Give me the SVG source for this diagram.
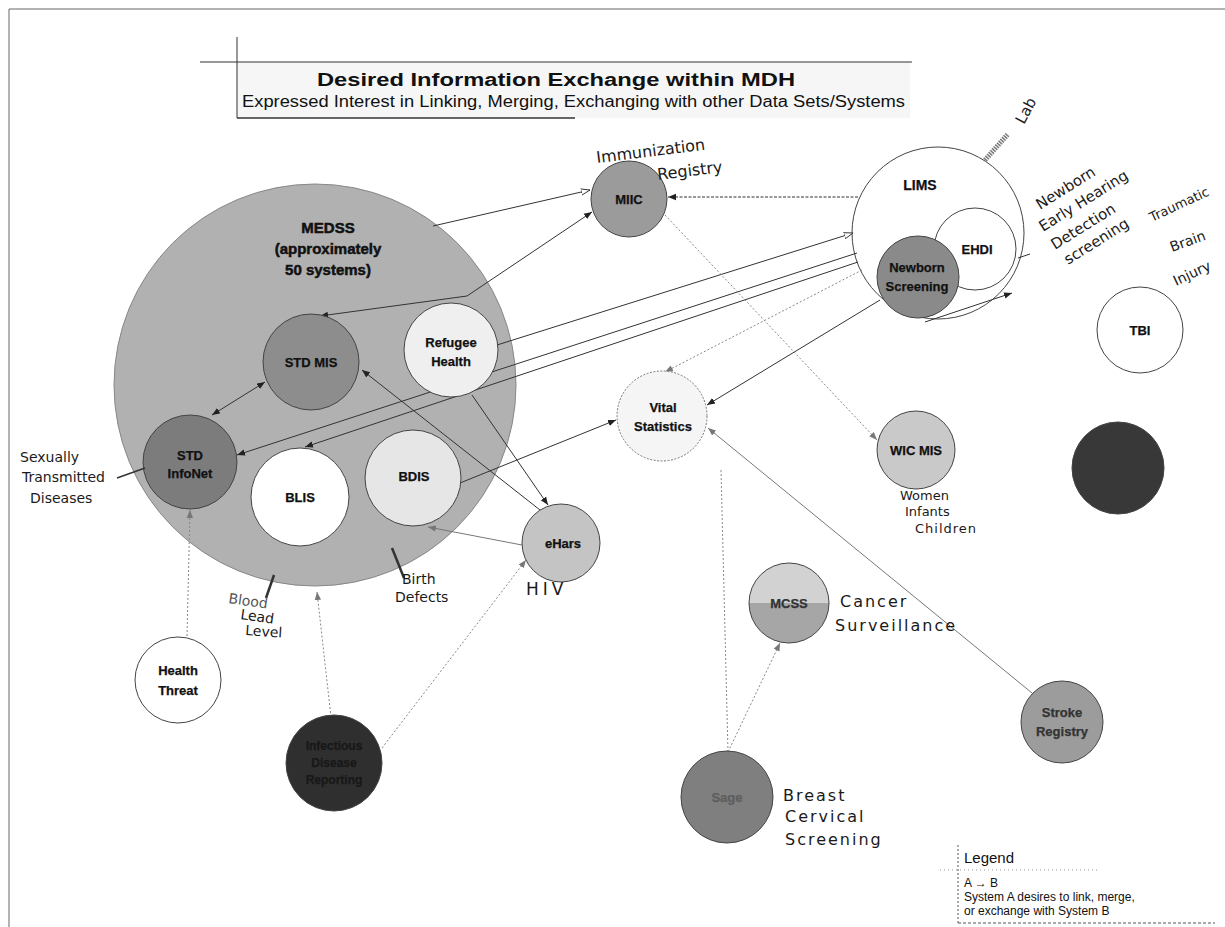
<svg xmlns="http://www.w3.org/2000/svg" width="1225" height="927" viewBox="0 0 1225 927">
<defs>
<style>
.lbl{font-family:"Liberation Sans",Arial,sans-serif;font-weight:bold;font-size:13px;fill:#111;text-anchor:middle;stroke:#111;stroke-width:0.25}
.big{font-family:"Liberation Sans",Arial,sans-serif;font-weight:bold;font-size:15px;fill:#111;text-anchor:middle;stroke:#111;stroke-width:0.5}
.hw{font-family:"DejaVu Sans","Liberation Sans",sans-serif;fill:#1a1a1a}
.ln{stroke:#333;stroke-width:1;fill:none}
.lg{stroke:#777;stroke-width:1;fill:none}
.dt{stroke:#888;stroke-width:1;stroke-dasharray:2 2;fill:none}
.c{stroke:#444;stroke-width:1}
.leg{font-family:"Liberation Sans",Arial,sans-serif;fill:#111}
</style>
<marker id="ah" viewBox="0 0 10 10" refX="10" refY="5" markerWidth="8" markerHeight="8" orient="auto-start-reverse" markerUnits="userSpaceOnUse"><path d="M0,1 L10,5 L0,9 z" fill="#222"/></marker>
<marker id="ag" viewBox="0 0 10 10" refX="10" refY="5" markerWidth="8" markerHeight="8" orient="auto-start-reverse" markerUnits="userSpaceOnUse"><path d="M0,1 L10,5 L0,9 z" fill="#777"/></marker>
<marker id="ao" viewBox="0 0 10 10" refX="10" refY="5" markerWidth="9" markerHeight="9" orient="auto" markerUnits="userSpaceOnUse"><path d="M0,1.5 L10,5 L0,8.5 z" fill="#fff" stroke="#333" stroke-width="1"/></marker>
<linearGradient id="mcssg" x1="0" y1="0" x2="0" y2="1"><stop offset="0.5" stop-color="#d2d2d2"/><stop offset="0.5" stop-color="#a6a6a6"/></linearGradient>
</defs>
<rect width="1225" height="927" fill="#fff"/>
<line x1="9" y1="9" x2="1225" y2="9" stroke="#666" stroke-width="1"/>
<line x1="9" y1="9" x2="9" y2="927" stroke="#666" stroke-width="1"/>

<g id="title">
<rect x="237" y="62" width="673" height="56" fill="#f6f6f6"/>
<line x1="200" y1="62" x2="912" y2="62" stroke="#333" stroke-width="1.2"/>
<line x1="237" y1="37" x2="237" y2="118" stroke="#333" stroke-width="1"/>
<line x1="237" y1="118" x2="575" y2="118" stroke="#333" stroke-width="1.5"/>
<text x="556" y="86" font-family="Liberation Sans,Arial,sans-serif" font-weight="bold" font-size="18" text-anchor="middle" textLength="478" lengthAdjust="spacingAndGlyphs" fill="#111">Desired Information Exchange within MDH</text>
<text x="242" y="107" font-family="Liberation Sans,Arial,sans-serif" font-size="16" textLength="663" lengthAdjust="spacingAndGlyphs" fill="#111">Expressed Interest in Linking, Merging, Exchanging with other Data Sets/Systems</text>
</g>

<g id="medss">
<circle cx="315" cy="385" r="201" fill="#b1b1b1" stroke="#888"/>
<text class="big" x="328" y="233">MEDSS</text>
<text class="big" x="328" y="254">(approximately</text>
<text class="big" x="328" y="275">50 systems)</text>
</g>
<g id="lims">
<circle cx="938" cy="233" r="86" fill="#fff" class="c"/>
<text class="lbl" style="font-size:14px" x="920" y="190">LIMS</text>
</g>

<g id="connectors">
<line class="ln" x1="433" y1="226" x2="590" y2="190" marker-end="url(#ao)"/>
<polyline class="ln" points="320,316 467,296 592,212" marker-start="url(#ah)" marker-end="url(#ah)"/>
<line class="ln" stroke-dasharray="3 1.5" x1="858" y1="197" x2="668" y2="197" marker-end="url(#ah)"/>
<line class="ln" x1="497" y1="345" x2="853" y2="233" marker-end="url(#ao)"/>
<line class="ln" x1="857" y1="253" x2="237" y2="455" marker-end="url(#ah)"/>
<line class="ln" x1="858" y1="262" x2="305" y2="447" marker-end="url(#ah)"/>
<line class="ln" x1="880" y1="300" x2="707" y2="405" marker-end="url(#ah)"/>
<line class="dt" x1="862" y1="270" x2="665" y2="372" marker-end="url(#ag)"/>
<line class="ln" x1="925" y1="322" x2="1012" y2="293" marker-end="url(#ah)"/>
<line class="dt" x1="665" y1="215" x2="877" y2="440" marker-end="url(#ag)"/>
<line class="ln" x1="265" y1="382" x2="212" y2="415" marker-start="url(#ah)" marker-end="url(#ah)"/>
<line class="ln" x1="540" y1="510" x2="362" y2="370" marker-end="url(#ah)"/>
<line class="ln" x1="472" y1="395" x2="548" y2="505" marker-end="url(#ah)"/>
<line class="lg" x1="522" y1="545" x2="428" y2="527" marker-end="url(#ag)"/>
<line class="ln" x1="460" y1="483" x2="616" y2="420" marker-end="url(#ah)"/>
<line class="lg" x1="1032" y1="693" x2="708" y2="428" marker-end="url(#ag)"/>
<line class="dt" x1="382" y1="748" x2="526" y2="560" marker-end="url(#ag)"/>
<line class="dt" x1="187" y1="636" x2="190" y2="510" marker-end="url(#ag)"/>
<line class="dt" x1="331" y1="717" x2="317" y2="592" marker-end="url(#ag)"/>
<line class="dt" x1="728" y1="752" x2="780" y2="643" marker-end="url(#ag)"/>
<line class="dt" x1="728" y1="752" x2="721" y2="470"/>
</g>

<g id="std-mis"><circle cx="311" cy="362" r="48" fill="#8d8d8d" class="c"/><text class="lbl" x="311" y="367">STD MIS</text></g>
<g id="refugee-health"><circle cx="451" cy="350" r="47" fill="#efefef" class="c"/><text class="lbl" x="451" y="347">Refugee</text><text class="lbl" x="451" y="366">Health</text></g>
<g id="std-infonet"><circle cx="190" cy="462" r="47" fill="#7c7c7c" class="c"/><text class="lbl" x="190" y="460">STD</text><text class="lbl" x="190" y="478">InfoNet</text></g>
<g id="blis"><circle cx="300" cy="497" r="49" fill="#fff" class="c"/><text class="lbl" x="300" y="502">BLIS</text></g>
<g id="bdis"><circle cx="413" cy="478" r="48" fill="#e6e6e6" class="c"/><text class="lbl" x="414" y="481">BDIS</text></g>
<g id="miic"><circle cx="629" cy="199" r="38" fill="#9b9b9b" class="c"/><text class="lbl" x="629" y="204">MIIC</text></g>
<g id="ehdi"><circle cx="975" cy="249" r="41" fill="#fff" class="c"/><text class="lbl" x="977" y="254">EHDI</text></g>
<g id="newborn-screening"><circle cx="918" cy="277" r="41" fill="#8a8a8a" class="c"/><text class="lbl" x="917" y="272">Newborn</text><text class="lbl" x="917" y="291">Screening</text></g>
<g id="tbi"><circle cx="1140" cy="330" r="43" fill="#fff" class="c"/><text class="lbl" x="1140" y="335">TBI</text></g>
<g id="vital-statistics"><circle cx="662" cy="416" r="45" fill="#f5f5f5" stroke="#777" stroke-dasharray="2 1.5"/><text class="lbl" x="663" y="412">Vital</text><text class="lbl" x="663" y="431">Statistics</text></g>
<g id="wic-mis"><circle cx="916" cy="450" r="39" fill="#c9c9c9" class="c"/><text class="lbl" x="916" y="455">WIC MIS</text></g>
<g id="dark-unlabeled"><circle cx="1118" cy="468" r="46" fill="#383838" class="c"/></g>
<g id="mcss"><circle cx="789" cy="603" r="40" fill="url(#mcssg)" class="c"/><text class="lbl" x="789" y="608" style="fill:#333;stroke:#333">MCSS</text></g>
<g id="stroke-registry"><circle cx="1062" cy="722" r="41" fill="#9c9c9c" class="c"/><text class="lbl" x="1062" y="717" style="fill:#333;stroke:#333">Stroke</text><text class="lbl" x="1062" y="736" style="fill:#333;stroke:#333">Registry</text></g>
<g id="sage"><circle cx="727" cy="797" r="46" fill="#7f7f7f" class="c"/><text class="lbl" x="727" y="802" style="fill:#5e5e5e;stroke:#5e5e5e">Sage</text></g>
<g id="ehars"><circle cx="561" cy="543" r="39" fill="#c4c4c4" class="c"/><text class="lbl" x="563" y="548">eHars</text></g>
<g id="infectious"><circle cx="334" cy="763" r="48" fill="#2f2f2f" class="c"/><text class="lbl" x="334" y="750" style="font-size:12px;fill:#181818;stroke:#181818">Infectious</text><text class="lbl" x="334" y="767" style="font-size:12px;fill:#181818;stroke:#181818">Disease</text><text class="lbl" x="334" y="784" style="font-size:12px;fill:#181818;stroke:#181818">Reporting</text></g>
<g id="health-threat"><circle cx="178" cy="680" r="43" fill="#fff" class="c"/><text class="lbl" x="178" y="675">Health</text><text class="lbl" x="178" y="695">Threat</text></g>

<g id="annotations">
<text class="hw" style="font-size:16px" transform="translate(597,163) rotate(-7)">Immunization</text>
<text class="hw" style="font-size:16px" transform="translate(658,180) rotate(-7)">Registry</text>
<text class="hw" style="font-size:15px" transform="translate(1024,125) rotate(-62)">Lab</text>
<line x1="985" y1="160" x2="1008" y2="134" stroke="#777" stroke-width="5" stroke-dasharray="1.5 1"/>
<text class="hw" style="font-size:15px" transform="translate(1040,210) rotate(-32)">Newborn</text>
<text class="hw" style="font-size:15px" transform="translate(1043,232) rotate(-32)">Early Hearing</text>
<text class="hw" style="font-size:15px" transform="translate(1055,250) rotate(-32)">Detection</text>
<text class="hw" style="font-size:15px" transform="translate(1068,265) rotate(-32)">screening</text>
<line x1="1018" y1="258" x2="1030" y2="254" stroke="#333"/>
<text class="hw" style="font-size:13px" transform="translate(1152,222) rotate(-25)">Traumatic</text>
<text class="hw" style="font-size:14px" transform="translate(1172,252) rotate(-20)">Brain</text>
<text class="hw" style="font-size:14px" transform="translate(1176,286) rotate(-25)">Injury</text>
<text class="hw" style="font-size:14px" x="20" y="462">Sexually</text>
<text class="hw" style="font-size:14px" x="22" y="482">Transmitted</text>
<text class="hw" style="font-size:14px" x="30" y="503">Diseases</text>
<line x1="117" y1="478" x2="145" y2="468" stroke="#333" stroke-width="1.5"/>
<line x1="266" y1="598" x2="274" y2="575" stroke="#333" stroke-width="2.5"/>
<text class="hw" style="font-size:14px;fill:#555" transform="translate(228,603) rotate(8)">Blood</text>
<text class="hw" style="font-size:14px" transform="translate(240,619) rotate(8)">Lead</text>
<text class="hw" style="font-size:14px" transform="translate(245,635) rotate(4)">Level</text>
<line x1="392" y1="548" x2="404" y2="578" stroke="#333" stroke-width="2.5"/>
<text class="hw" style="font-size:14px" x="402" y="584">Birth</text>
<text class="hw" style="font-size:14px" x="395" y="602">Defects</text>
<text class="hw" style="font-size:17px;letter-spacing:4px" x="526" y="595">HIV</text>
<text class="hw" style="font-size:13px" x="900" y="500">Women</text>
<text class="hw" style="font-size:13px" x="905" y="516">Infants</text>
<text class="hw" style="font-size:13px;letter-spacing:1px" x="915" y="533">Children</text>
<text class="hw" style="font-size:16px;letter-spacing:2px" x="840" y="607">Cancer</text>
<text class="hw" style="font-size:16px;letter-spacing:2px" x="835" y="631">Surveillance</text>
<text class="hw" style="font-size:16px;letter-spacing:2px" x="783" y="801">Breast</text>
<text class="hw" style="font-size:16px;letter-spacing:2px" x="785" y="822">Cervical</text>
<text class="hw" style="font-size:16px;letter-spacing:2px" x="785" y="845">Screening</text>
</g>

<g id="legend">
<line x1="958" y1="845" x2="958" y2="923" stroke="#555" stroke-dasharray="2 2"/>
<line x1="940" y1="870" x2="1100" y2="870" stroke="#999" stroke-dasharray="1 3"/>
<line x1="958" y1="923" x2="1215" y2="923" stroke="#555" stroke-dasharray="3 2"/>
<text class="leg" style="font-size:15px" x="964" y="863">Legend</text>
<text class="leg" style="font-size:12px" x="964" y="887">A → B</text>
<text class="leg" style="font-size:12px" x="964" y="901">System A desires to link, merge,</text>
<text class="leg" style="font-size:12px" x="964" y="915">or exchange with System B</text>
</g>
</svg>
